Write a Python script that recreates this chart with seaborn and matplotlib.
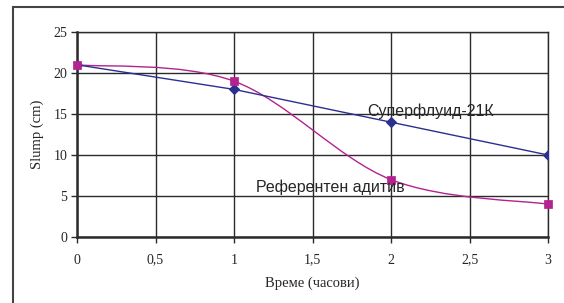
import numpy as np
import pandas as pd
import matplotlib
matplotlib.use("Agg")
import matplotlib.pyplot as plt
import seaborn as sns
from matplotlib.path import Path
from matplotlib.patches import PathPatch, Rectangle

# данни
vreme = [0, 1, 2, 3]
superfluid = [21, 18, 14, 10]
referenten = [21, 19, 7, 4]
x_ticks = [0, 0.5, 1, 1.5, 2, 2.5, 3]
x_labels = ["0", "0,5", "1", "1,5", "2", "2,5", "3"]
y_ticks = [0, 5, 10, 15, 20, 25]

blue = "#2b2f8f"
magenta = "#b3228f"
grid_c = "#2b2b2b"

sns.set_style("white")
plt.rcParams["font.family"] = ["Liberation Serif", "DejaVu Serif"]

fig = plt.figure(figsize=(5.64, 3.03), dpi=100)
# outer frame
fig.add_artist(Rectangle((13 / 564, -0.1), 1.2, 1.1 - 7 / 303,
                         transform=fig.transFigure, fill=False,
                         edgecolor="#444444", linewidth=1.5))
ax = fig.add_axes([77 / 564, 66 / 303, 471 / 564, 205 / 303])

df = pd.DataFrame({"vreme": vreme, "superfluid": superfluid, "referenten": referenten})

# blue straight series
sns.lineplot(data=df, x="vreme", y="superfluid", ax=ax, color=blue, linewidth=1,
             marker="D", markersize=5, markeredgecolor=blue, zorder=4)

# magenta smoothed series (bezier through the points, Excel-style)
pts = np.column_stack([vreme, referenten]).astype(float)
ext = np.vstack([pts[0], pts, pts[-1]])
verts = [tuple(pts[0])]
codes = [Path.MOVETO]
for i in range(len(pts) - 1):
    p0, p1, p2, p3 = ext[i], ext[i + 1], ext[i + 2], ext[i + 3]
    c1 = p1 + (p2 - p0) / 6
    c2 = p2 - (p3 - p1) / 6
    verts += [tuple(c1), tuple(c2), tuple(p2)]
    codes += [Path.CURVE4] * 3
ax.add_patch(PathPatch(Path(verts, codes), fill=False, edgecolor=magenta,
                       linewidth=1, zorder=3))
sns.scatterplot(data=df, x="vreme", y="referenten", ax=ax, color=magenta,
                marker="s", s=40, edgecolor=magenta, zorder=5, clip_on=False)

ax.set_xlim(0, 3)
ax.set_ylim(0, 25)
ax.set_xticks(x_ticks)
ax.set_xticklabels(x_labels)
ax.set_yticks(y_ticks)
ax.grid(True, color=grid_c, linewidth=1)
for s in ax.spines.values():
    s.set_color(grid_c)
    s.set_linewidth(1)
ax.spines["left"].set_linewidth(1.8)
ax.spines["bottom"].set_linewidth(1.8)
ax.tick_params(axis="both", which="both", direction="out", length=4, width=1,
               color=grid_c, labelsize=10, bottom=True, left=True)
ax.tick_params(axis="x", pad=8)
ax.tick_params(axis="y", pad=3)
ax.set_xlabel("Време (часови)", fontsize=10.5, labelpad=7)
ax.set_ylabel("Slump (cm)", fontsize=10.5, labelpad=7)

ax.text(1.848, 15.3, "Суперфлуид-21К", fontsize=11.5, family=["Liberation Sans", "DejaVu Sans"],
        va="center", ha="left", zorder=6)
ax.text(1.141, 6.1, "Референтен адитив", fontsize=11.5, family=["Liberation Sans", "DejaVu Sans"],
        va="center", ha="left", zorder=6)

fig.savefig("out.png", dpi=100)
